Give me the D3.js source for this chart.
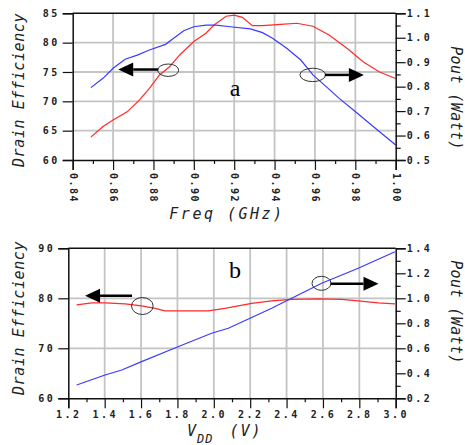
<!DOCTYPE html>
<html>
<head>
<meta charset="utf-8">
<script src="https://cdn.jsdelivr.net/npm/d3@7"></script>
<style>
  body { margin: 0; background: #fff; }
  .tick text { font-family: "DejaVu Sans Mono", monospace; font-size: 10px; font-weight: bold; letter-spacing: 2.5px; fill: #222; }
  .title { font-family: "DejaVu Sans Mono", monospace; font-style: italic; font-size: 15px; fill: #222; }
</style>
</head>
<body>
<div class="fig"></div>
<script>
// panel a : frequency sweep
var freqEff = [0.849, 0.855, 0.860, 0.867, 0.873, 0.878, 0.883, 0.888, 0.893, 0.900, 0.906, 0.910, 0.916, 0.920, 0.924, 0.929, 0.934, 0.943, 0.951, 0.959, 0.967, 0.976, 0.984, 0.992, 1.000];
var effA = [63.9, 65.7, 66.8, 68.2, 70.2, 72.2, 74.5, 75.9, 77.9, 80.2, 81.6, 83.0, 84.5, 84.7, 84.3, 82.9, 82.9, 83.1, 83.3, 82.8, 81.3, 79.0, 76.7, 75.0, 73.9];
var freqPout = [0.849, 0.855, 0.860, 0.866, 0.872, 0.878, 0.886, 0.890, 0.895, 0.900, 0.906, 0.911, 0.918, 0.928, 0.934, 0.939, 0.946, 0.953, 0.959, 0.966, 0.972, 0.981, 0.989, 1.000];
var poutA = [0.796, 0.834, 0.875, 0.912, 0.929, 0.950, 0.973, 0.998, 1.029, 1.045, 1.052, 1.052, 1.045, 1.036, 1.021, 0.998, 0.957, 0.909, 0.848, 0.797, 0.752, 0.691, 0.636, 0.561];

// panel b : supply voltage sweep
var vddEff = [1.246, 1.329, 1.402, 1.512, 1.603, 1.677, 1.731, 1.970, 2.061, 2.208, 2.318, 2.428, 2.574, 2.703, 2.794, 2.904, 2.996];
var effB = [78.7, 79.1, 79.1, 78.9, 78.5, 78.0, 77.5, 77.5, 78.0, 79.0, 79.5, 79.8, 79.9, 79.8, 79.5, 79.1, 78.9];
var vddPout = [1.246, 1.402, 1.494, 1.603, 1.796, 1.988, 2.080, 2.199, 2.318, 2.428, 2.593, 2.794, 2.996];
var poutB = [0.306, 0.386, 0.426, 0.493, 0.608, 0.720, 0.760, 0.840, 0.920, 1.000, 1.120, 1.240, 1.373];

// ticks
var freqTicks = [0.84, 0.86, 0.88, 0.90, 0.92, 0.94, 0.96, 0.98, 1.00];
var freqMinor = [0.85, 0.87, 0.89, 0.91, 0.93, 0.95, 0.97, 0.99];
var effTicksA = [60, 65, 70, 75, 80, 85];
var poutTicksA = [0.5, 0.6, 0.7, 0.8, 0.9, 1.0, 1.1];
var poutMinorA = [0.55, 0.65, 0.75, 0.85, 0.95, 1.05];
var vddTicks = [1.2, 1.4, 1.6, 1.8, 2.0, 2.2, 2.4, 2.6, 2.8, 3.0];
var vddMinor = [1.3, 1.5, 1.7, 1.9, 2.1, 2.3, 2.5, 2.7, 2.9];
var effTicksB = [60, 70, 80, 90];
var poutTicksB = [0.2, 0.4, 0.6, 0.8, 1.0, 1.2, 1.4];
var poutMinorB = [0.3, 0.5, 0.7, 0.9, 1.1, 1.3];

var svg = d3.select(".fig").append("svg")
  .attr("width", 465)
  .attr("height", 445);

var red = "#ff2a2a";
var blue = "#3a3aff";

function drawPanel(p) {
  var g = svg.append("g");

  var x = d3.scaleLinear().domain(p.xDomain).range([p.left, p.right]);
  var yL = d3.scaleLinear().domain(p.yLDomain).range([p.bottom, p.top]);
  var yR = d3.scaleLinear().domain(p.yRDomain).range([p.bottom, p.top]);

  // grid
  g.selectAll(".vgrid").data(p.xTicks.slice(1, -1)).enter().append("line")
    .attr("x1", d => x(d)).attr("x2", d => x(d))
    .attr("y1", p.top).attr("y2", p.bottom)
    .attr("stroke", "#c4c4c4").attr("stroke-width", 1.8);
  g.selectAll(".hgrid").data(p.yLTicks.slice(1, -1)).enter().append("line")
    .attr("x1", p.left).attr("x2", p.right)
    .attr("y1", d => yL(d)).attr("y2", d => yL(d))
    .attr("stroke", "#c4c4c4").attr("stroke-width", 1.8);

  // top frame
  g.append("line")
    .attr("x1", p.left).attr("x2", p.right)
    .attr("y1", p.top).attr("y2", p.top)
    .attr("stroke", "#111").attr("stroke-width", 1.5);

  // curves
  var effLine = d3.line().x(d => x(d[0])).y(d => yL(d[1]));
  var poutLine = d3.line().x(d => x(d[0])).y(d => yR(d[1]));
  g.append("path")
    .attr("d", effLine(d3.zip(p.effX, p.eff)))
    .attr("fill", "none").attr("stroke", red).attr("stroke-width", 1.2);
  g.append("path")
    .attr("d", poutLine(d3.zip(p.poutX, p.pout)))
    .attr("fill", "none").attr("stroke", blue).attr("stroke-width", 1.2);

  // left axis
  g.append("g")
    .attr("transform", `translate(${p.left},0)`)
    .call(d3.axisLeft(yL).tickValues(p.yLTicks).tickSize(10).tickPadding(3).tickFormat(d3.format("d")));

  // right axis
  g.append("g")
    .attr("transform", `translate(${p.right},0)`)
    .call(d3.axisRight(yR).tickValues(p.yRTicks).tickSize(10).tickPadding(1).tickFormat(d3.format(".1f")));
  g.append("g")
    .attr("transform", `translate(${p.right},0)`)
    .call(d3.axisRight(yR).tickValues(p.yRMinor).tickSize(5).tickFormat(""))
    .select(".domain").remove();

  // bottom axis
  var bottomAxis = g.append("g")
    .attr("transform", `translate(0,${p.bottom})`)
    .call(d3.axisBottom(x).tickValues(p.xTicks).tickSize(10).tickPadding(3).tickFormat(d3.format(p.xFormat)));
  g.append("g")
    .attr("transform", `translate(0,${p.bottom})`)
    .call(d3.axisBottom(x).tickValues(p.xMinor).tickSize(4).tickFormat(""))
    .select(".domain").remove();

  if (p.rotateX) {
    bottomAxis.selectAll("text")
      .attr("x", 0).attr("y", 0).attr("dy", null)
      .attr("transform", "translate(0,13) rotate(90)")
      .attr("text-anchor", "start")
      .attr("dominant-baseline", "central")
      .style("letter-spacing", "1.5px");
  }

  g.selectAll(".domain").attr("stroke", "#111").attr("stroke-width", 1.5);
  g.selectAll(".tick line").attr("stroke", "#111").attr("stroke-width", 1.2);

  // axis titles
  g.append("text").attr("class", "title")
    .attr("transform", `translate(24,${p.leftTitleY}) rotate(-90)`)
    .attr("text-anchor", "middle")
    .style("letter-spacing", "0.6px")
    .text("Drain Efficiency");
  g.append("text").attr("class", "title")
    .attr("transform", `translate(451,${p.rightTitleY}) rotate(90)`)
    .attr("text-anchor", "middle")
    .style("letter-spacing", "0.4px")
    .text("Pout (Watt)");

  // panel letter
  g.append("text")
    .attr("x", p.letterX).attr("y", p.letterY)
    .attr("text-anchor", "middle")
    .style("font-family", "Liberation Serif, serif")
    .style("font-size", "24px")
    .text(p.letter);

  // ellipse + arrow annotations
  p.notes.forEach(function (n) {
    var cx = x(n.cx), cy = n.axis === "L" ? yL(n.cy) : yR(n.cy);
    g.append("ellipse")
      .attr("cx", cx).attr("cy", cy).attr("rx", n.rx).attr("ry", n.ry)
      .attr("fill", "none").attr("stroke", "#333").attr("stroke-width", 1);
    var dir = n.dir;
    var ay = cy + n.dy;
    var x0 = cx + dir * n.rx * 0.95;
    var tip = x0 + dir * n.len;
    var base = tip - dir * 15;
    g.append("line")
      .attr("x1", x0).attr("x2", base).attr("y1", ay).attr("y2", ay)
      .attr("stroke", "#000").attr("stroke-width", 2.5);
    g.append("path")
      .attr("d", `M${tip},${ay} L${base},${ay - 7} L${base},${ay + 7} Z`)
      .attr("fill", "#000");
  });

  return g;
}

// panel a
drawPanel({
  left: 72.7, right: 395.7, top: 13.3, bottom: 160,
  xDomain: [0.84, 1.00], yLDomain: [60, 85], yRDomain: [0.5, 1.1],
  xTicks: freqTicks, xMinor: freqMinor, xFormat: ".2f", rotateX: true,
  yLTicks: effTicksA, yRTicks: poutTicksA, yRMinor: poutMinorA,
  effX: freqEff, eff: effA, poutX: freqPout, pout: poutA,
  leftTitleY: 90, rightTitleY: 98,
  letter: "a", letterX: 235, letterY: 96,
  notes: [
    { cx: 0.8873, cy: 75.3, axis: "L", rx: 10.5, ry: 6.2, dir: -1, dy: -0.7, len: 40 },
    { cx: 0.9589, cy: 0.848, axis: "R", rx: 12.8, ry: 6.7, dir: 1, dy: 0, len: 39 }
  ]
});

// panel b
drawPanel({
  left: 68.3, right: 395.7, top: 248.3, bottom: 398.3,
  xDomain: [1.2, 3.0], yLDomain: [60, 90], yRDomain: [0.2, 1.4],
  xTicks: vddTicks, xMinor: vddMinor, xFormat: ".1f", rotateX: false,
  yLTicks: effTicksB, yRTicks: poutTicksB, yRMinor: poutMinorB,
  effX: vddEff, eff: effB, poutX: vddPout, pout: poutB,
  leftTitleY: 318, rightTitleY: 312,
  letter: "b", letterX: 235, letterY: 278,
  notes: [
    { cx: 1.607, cy: 78.46, axis: "L", rx: 10.8, ry: 8.5, dir: -1, dy: -10.3, len: 47 },
    { cx: 2.592, cy: 1.12, axis: "R", rx: 9.5, ry: 7, dir: 1, dy: 0.5, len: 48 }
  ]
});

// x titles
svg.append("text").attr("class", "title")
  .attr("x", 227).attr("y", 219)
  .attr("text-anchor", "middle")
  .style("letter-spacing", "2.5px")
  .text("Freq (GHz)");

var vt = svg.append("text").attr("class", "title")
  .attr("x", 187).attr("y", 436)
  .style("letter-spacing", "1px");
vt.append("tspan").text("V");
vt.append("tspan").attr("dy", 7).style("font-size", "12px").text("DD");
vt.append("tspan").attr("dy", -7).attr("dx", 16).style("letter-spacing", "2px").text("(V)");
</script>
</body>
</html>
